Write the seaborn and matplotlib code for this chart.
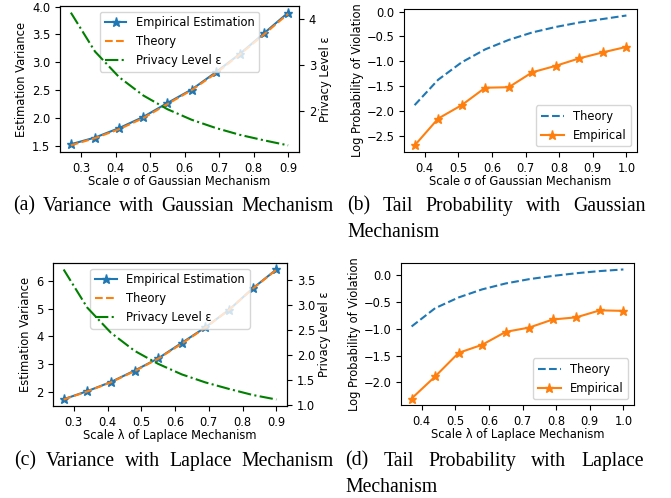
import matplotlib
matplotlib.use("Agg")
import matplotlib.pyplot as plt
from matplotlib.ticker import MultipleLocator
import seaborn as sns
import numpy as np

# ---------------- data ----------------
x_scale = [0.27, 0.34, 0.41, 0.48, 0.55, 0.62, 0.69, 0.76, 0.83, 0.90]
x_tail = [0.37, 0.44, 0.51, 0.58, 0.65, 0.72, 0.79, 0.86, 0.93, 1.00]

var_gauss_emp = [1.53, 1.65, 1.82, 2.02, 2.27, 2.51, 2.82, 3.15, 3.52, 3.89]
var_gauss_theory = [1.51, 1.64, 1.80, 2.00, 2.25, 2.50, 2.80, 3.14, 3.50, 3.87]
eps_gauss = [4.14, 3.29, 2.73, 2.33, 2.03, 1.80, 1.62, 1.47, 1.35, 1.24]

tail_gauss_theory = [-1.88, -1.37, -1.02, -0.76, -0.57, -0.42, -0.31, -0.22, -0.15, -0.08]
tail_gauss_emp = [-2.69, -2.15, -1.88, -1.53, -1.52, -1.22, -1.09, -0.94, -0.82, -0.71]

var_lap_emp = [1.74, 2.03, 2.36, 2.77, 3.21, 3.77, 4.33, 4.96, 5.73, 6.41]
var_lap_theory = [1.73, 2.02, 2.35, 2.75, 3.20, 3.74, 4.32, 4.96, 5.72, 6.40]
eps_lap = [3.70, 2.94, 2.44, 2.08, 1.82, 1.61, 1.45, 1.32, 1.20, 1.11]

tail_lap_theory = [-0.96, -0.62, -0.42, -0.27, -0.16, -0.08, -0.02, 0.03, 0.07, 0.10]
tail_lap_emp = [-2.30, -1.89, -1.45, -1.30, -1.06, -0.98, -0.83, -0.79, -0.66, -0.67]

captions = {
    "a": ["(a)", "Variance", "with", "Gaussian", "Mechanism"],
    "b": ["(b)", "Tail", "Probability", "with", "Gaussian"],
    "c": ["(c)", "Variance", "with", "Laplace", "Mechanism"],
    "d": ["(d)", "Tail", "Probability", "with", "Laplace"],
}

# ---------------- figure ----------------
plt.rcParams["font.size"] = 8.3
W, H = 671, 498
fig = plt.figure(figsize=(W / 100, H / 100), dpi=100)
fig.patch.set_facecolor("white")

def box(l, t, r, b):
    return [l / W, 1 - b / H, (r - l) / W, (b - t) / H]

BLUE = "tab:blue"
ORANGE = "tab:orange"
GREEN = "g"
MS = 6.5


def variance_panel(rect, x, emp, theo, eps, xlabel):
    ax = fig.add_axes(box(*rect))
    sns.lineplot(x=x, y=emp, ax=ax, color=BLUE, marker="*", markersize=MS,
                 markeredgecolor=BLUE, markeredgewidth=1,
                 label="Empirical Estimation")
    sns.lineplot(x=x, y=theo, ax=ax, color=ORANGE, linestyle="--",
                 label="Theory")
    ax.set_xlabel(xlabel, labelpad=0.5)
    ax.set_ylabel("Estimation Variance", labelpad=2.5)
    ax.xaxis.set_major_locator(MultipleLocator(0.1))
    tw = ax.twinx()
    sns.lineplot(x=x, y=eps, ax=tw, color=GREEN, linestyle="-.",
                 label="Privacy Level ε")
    tw.set_ylabel("Privacy Level ε", labelpad=2)
    h1, l1 = ax.get_legend_handles_labels()
    h2, l2 = tw.get_legend_handles_labels()
    if tw.get_legend() is not None:
        tw.get_legend().remove()
    ax.legend(h1 + h2, l1 + l2, loc="upper center", handlelength=1.9)
    return ax, tw


def tail_panel(rect, x, theo, emp, xlabel):
    ax = fig.add_axes(box(*rect))
    sns.lineplot(x=x, y=theo, ax=ax, color=BLUE, linestyle="--", label="Theory")
    sns.lineplot(x=x, y=emp, ax=ax, color=ORANGE, marker="*", markersize=MS,
                 markeredgecolor=ORANGE, markeredgewidth=1, label="Empirical")
    ax.set_xlabel(xlabel, labelpad=0.5)
    ax.set_ylabel("Log Probability of Violation", labelpad=1.5)
    ax.xaxis.set_major_locator(MultipleLocator(0.1))
    ax.yaxis.set_major_locator(MultipleLocator(0.5))
    ax.legend(loc="lower right")
    return ax


axa, twa = variance_panel((60, 6, 299, 152), x_scale, var_gauss_emp, var_gauss_theory,
                          eps_gauss, "Scale σ of Gaussian Mechanism")
axa.yaxis.set_major_locator(MultipleLocator(0.5))
twa.yaxis.set_major_locator(MultipleLocator(1))
tail_panel((404, 9, 637, 152), x_tail, tail_gauss_theory, tail_gauss_emp,
           "Scale σ of Gaussian Mechanism")
axc, twc = variance_panel((53, 263, 287, 406), x_scale, var_lap_emp, var_lap_theory,
                          eps_lap, "Scale λ of Laplace Mechanism")
axc.yaxis.set_major_locator(MultipleLocator(1))
twc.yaxis.set_major_locator(MultipleLocator(0.5))
tail_panel((401, 263, 634, 405), x_tail, tail_lap_theory, tail_lap_emp,
           "Scale λ of Laplace Mechanism")

# ---------------- captions ----------------
SERIF = ["Liberation Serif", "DejaVu Serif"]
fig.canvas.draw()
renderer = fig.canvas.get_renderer()


def text_width(s, size):
    t = fig.text(0, 0, s, family=SERIF, size=size)
    w = t.get_window_extent(renderer).width
    t.remove()
    return w

cap_size = 10 * 312.0 / text_width(" ".join(captions["a"]), 10)


def put(s, x, y, ha="left"):
    fig.text(x / W, 1 - y / H, s, family=SERIF, size=cap_size,
             ha=ha, va="center", color="black")


def justified(words, x0, x1, y):
    widths = [text_width(w, cap_size) for w in words]
    gap = (x1 - x0 - sum(widths)) / (len(words) - 1)
    x = x0
    for w, wd in zip(words, widths):
        put(w, x, y)
        x += wd + gap

justified(captions["a"], 13, 334, 206)
justified(captions["b"], 347, 646, 206)
put("Mechanism", 347, 232)
justified(captions["c"], 14, 334, 461)
justified(captions["d"], 345, 644, 461)
put("Mechanism", 345, 487)

fig.savefig("out.png", dpi=100, facecolor="white")
